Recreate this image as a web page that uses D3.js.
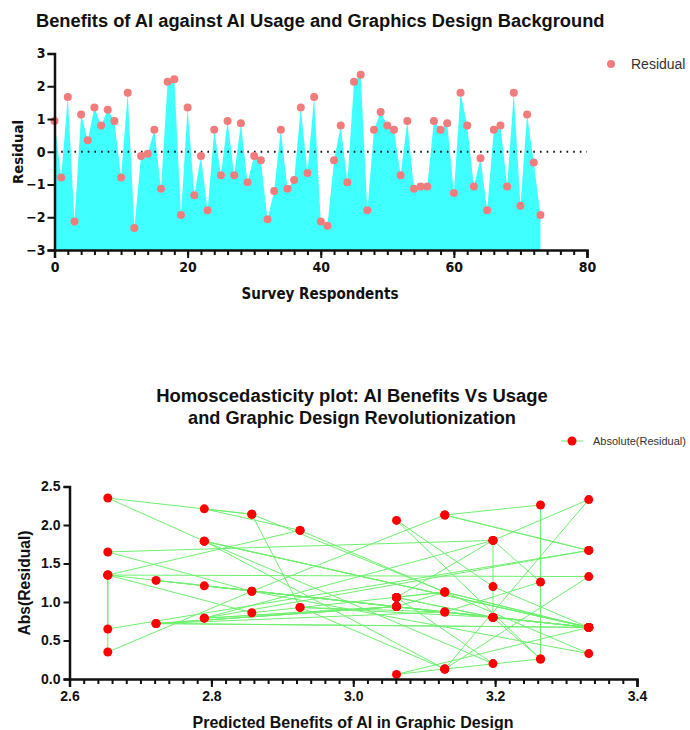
<!DOCTYPE html>
<html>
<head>
<meta charset="utf-8">
<script src="https://cdnjs.cloudflare.com/ajax/libs/d3/7.8.5/d3.min.js"></script>
<style>
  body { margin: 0; background: #fff; }
  text { font-family: "Liberation Sans", Arial, sans-serif; fill: #111; }
  .narrow { font-family: "Liberation Sans Narrow", "DejaVu Sans Condensed", "Liberation Sans", sans-serif; }
</style>
</head>
<body>
<svg width="690" height="730"></svg>
<script>
// residuals, one per survey respondent (0..73)
const residual = [0.94, -0.79, 1.67, -2.13, 1.14, 0.35, 1.35, 0.80, 1.28, 0.94,
  -0.79, 1.80, -2.33, -0.13, -0.06, 0.67, -1.13, 2.14, 2.21, -1.93,
  1.35, -1.33, -0.13, -1.79, 0.67, -0.72, 0.94, -0.72, 0.87, -0.93,
  -0.13, -0.26, -2.06, -1.20, 0.67, -1.13, -0.86, 1.35, -0.65, 1.67,
  -2.13, -2.26, -0.26, 0.80, -0.93, 2.14, 2.35, -1.79, 0.67, 1.21,
  0.80, 0.67, -0.72, 0.94, -1.13, -1.06, -1.06, 0.94, 0.67, 0.87,
  -1.26, 1.80, 0.80, -1.06, -0.20, -1.79, 0.67, 0.80, -1.06, 1.80,
  -1.65, 1.14, -0.33, -1.93];

// predicted benefit for each respondent (same order)
const predicted = [3.061, 2.790, 3.332, 3.129, 2.857, 2.654, 2.654, 3.197, 2.722, 3.061,
  2.790, 3.197, 3.332, 3.129, 3.061, 3.332, 3.129, 2.857, 2.790, 2.925,
  2.654, 3.332, 3.129, 2.790, 3.332, 2.722, 3.061, 2.722, 3.129, 2.925,
  3.129, 3.264, 3.061, 3.197, 3.332, 3.129, 2.857, 2.654, 2.654, 3.332,
  3.129, 3.264, 3.264, 3.197, 2.925, 2.857, 2.654, 2.790, 3.332, 2.790,
  3.197, 3.332, 2.722, 3.061, 3.129, 3.061, 3.061, 3.061, 3.332, 3.129,
  3.264, 3.197, 3.197, 3.061, 3.197, 2.790, 3.332, 3.197, 3.061, 3.197,
  2.654, 2.857, 3.332, 2.925];

// absolute residuals (same order)
const absResidual = [0.94, 0.79, 1.67, 2.13, 1.14, 0.35, 1.35, 0.80, 1.28, 0.94,
  0.79, 1.80, 2.33, 0.13, 0.06, 0.67, 1.13, 2.14, 2.21, 1.93,
  1.35, 1.33, 0.13, 1.79, 0.67, 0.72, 0.94, 0.72, 0.87, 0.93,
  0.13, 0.26, 2.06, 1.20, 0.67, 1.13, 0.86, 1.35, 0.65, 1.67,
  2.13, 2.26, 0.26, 0.80, 0.93, 2.14, 2.35, 1.79, 0.67, 1.21,
  0.80, 0.67, 0.72, 0.94, 1.13, 1.06, 1.06, 0.94, 0.67, 0.87,
  1.26, 1.80, 0.80, 1.06, 0.20, 1.79, 0.67, 0.80, 1.06, 1.80,
  1.65, 1.14, 0.33, 1.93];

const topXTicks = [0, 20, 40, 60, 80];
const topYTicks = [-3, -2, -1, 0, 1, 2, 3];
const botXTicks = [2.6, 2.8, 3.0, 3.2, 3.4];
const botYTicks = [0, 0.5, 1.0, 1.5, 2.0, 2.5];

const svg = d3.select("svg");

// scale a text's font size so it spans the wanted width
function fit(sel, w) {
  const n = sel.node();
  const fs = parseFloat(sel.attr("font-size"));
  const len = n.getComputedTextLength();
  sel.attr("font-size", (fs * w / len).toFixed(2));
  return sel;
}

// ---------- top chart ----------
const x1 = d3.scaleLinear().domain([0, 80]).range([54.5, 587]);
const y1 = d3.scaleLinear().domain([-3, 3]).range([250, 53.5]);

const g1 = svg.append("g");

g1.append("path")
  .datum(residual)
  .attr("fill", "#40ffff")
  .attr("d", d3.area()
    .x((d, i) => x1(i))
    .y0(y1(-3))
    .y1(d => y1(d)));

// zero line
g1.append("line")
  .attr("x1", x1(0)).attr("x2", x1(80))
  .attr("y1", y1(0)).attr("y2", y1(0))
  .attr("stroke", "#111")
  .attr("stroke-width", 2)
  .attr("stroke-dasharray", "1.6,5.05");

g1.selectAll("circle.res")
  .data(residual)
  .enter()
  .append("circle")
  .attr("class", "res")
  .attr("cx", (d, i) => x1(i))
  .attr("cy", d => y1(d))
  .attr("r", 4)
  .attr("fill", "#f27c7c");

// x axis, minor ticks every 2
const xAx1 = g1.append("g").attr("transform", `translate(0,${y1(-3)})`);
xAx1.append("g")
  .call(d3.axisBottom(x1).tickValues(d3.range(0, 81, 2)).tickSize(5).tickFormat(""))
  .call(a => a.select(".domain").remove())
  .selectAll("line").attr("stroke", "#111").attr("stroke-width", 2);
xAx1.append("g")
  .call(d3.axisBottom(x1).tickValues(topXTicks).tickSize(8).tickPadding(4))
  .call(a => a.select(".domain").attr("stroke-width", 2.5).attr("stroke", "#111"))
  .call(a => a.selectAll("line").attr("stroke", "#111").attr("stroke-width", 2))
  .call(a => a.selectAll("text").attr("class", "narrow")
    .attr("font-size", 14).attr("font-weight", "bold").attr("fill", "#111"));

const yAx1 = g1.append("g").attr("transform", `translate(${x1(0)},0)`);
yAx1.call(d3.axisLeft(y1).tickValues(topYTicks).tickSize(7).tickPadding(2).tickFormat(d3.format("d")))
  .call(a => a.select(".domain").attr("stroke-width", 2.5).attr("stroke", "#111"))
  .call(a => a.selectAll("line").attr("stroke", "#111").attr("stroke-width", 2))
  .call(a => a.selectAll("text").attr("class", "narrow")
    .attr("font-size", 14).attr("font-weight", "bold").attr("fill", "#111"));

fit(svg.append("text")
  .attr("x", 36).attr("y", 27)
  .attr("font-size", 15).attr("font-weight", "bold")
  .text("Benefits of AI against AI Usage and Graphics Design Background"), 569);

fit(svg.append("text")
  .attr("class", "narrow")
  .attr("x", 320).attr("y", 299)
  .attr("text-anchor", "middle")
  .attr("font-size", 16).attr("font-weight", "bold")
  .text("Survey Respondents"), 157);

fit(svg.append("text")
  .attr("class", "narrow")
  .attr("transform", "translate(23,152) rotate(-90)")
  .attr("text-anchor", "middle")
  .attr("font-size", 16).attr("font-weight", "bold")
  .text("Residual"), 64);

// legend
svg.append("circle").attr("cx", 611).attr("cy", 64).attr("r", 4).attr("fill", "#f27c7c");
svg.append("text")
  .attr("x", 631).attr("y", 69)
  .attr("font-size", 14)
  .style("fill", "#333")
  .text("Residual");

// ---------- bottom chart ----------
const x2 = d3.scaleLinear().domain([2.6, 3.4]).range([69.5, 637]);
const y2 = d3.scaleLinear().domain([0, 2.5]).range([679, 486.5]);

const g2 = svg.append("g");

g2.append("path")
  .datum(absResidual)
  .attr("fill", "none")
  .attr("stroke", "#6ef06e")
  .attr("stroke-width", 1)
  .attr("d", d3.line()
    .x((d, i) => x2(predicted[i]))
    .y(d => y2(d)));

g2.selectAll("circle.abs")
  .data(absResidual)
  .enter()
  .append("circle")
  .attr("class", "abs")
  .attr("cx", (d, i) => x2(predicted[i]))
  .attr("cy", d => y2(d))
  .attr("r", 4.5)
  .attr("fill", "#ff0000");

const xAx2 = g2.append("g").attr("transform", `translate(0,${y2(0)})`);
xAx2.append("g")
  .call(d3.axisBottom(x2).tickValues(d3.range(0, 41).map(k => 2.6 + k * 0.02)).tickSize(5).tickFormat(""))
  .call(a => a.select(".domain").remove())
  .selectAll("line").attr("stroke", "#111").attr("stroke-width", 2);
xAx2.append("g")
  .call(d3.axisBottom(x2).tickValues(botXTicks).tickSize(8).tickPadding(4).tickFormat(d3.format(".1f")))
  .call(a => a.select(".domain").attr("stroke-width", 2.5).attr("stroke", "#111"))
  .call(a => a.selectAll("line").attr("stroke", "#111").attr("stroke-width", 2))
  .call(a => a.selectAll("text")
    .attr("font-size", 14).attr("font-weight", "bold").attr("fill", "#111"));

const yAx2 = g2.append("g").attr("transform", `translate(${x2(2.6)},0)`);
yAx2.call(d3.axisLeft(y2).tickValues(botYTicks).tickSize(6).tickPadding(3).tickFormat(d3.format(".1f")))
  .call(a => a.select(".domain").attr("stroke-width", 2.5).attr("stroke", "#111"))
  .call(a => a.selectAll("line").attr("stroke", "#111").attr("stroke-width", 2))
  .call(a => a.selectAll("text")
    .attr("font-size", 14).attr("font-weight", "bold").attr("fill", "#111"));

fit(svg.append("text")
  .attr("x", 352).attr("y", 402)
  .attr("text-anchor", "middle")
  .attr("font-size", 16).attr("font-weight", "bold")
  .text("Homoscedasticity plot: AI Benefits Vs Usage"), 392);
fit(svg.append("text")
  .attr("x", 352).attr("y", 424)
  .attr("text-anchor", "middle")
  .attr("font-size", 16).attr("font-weight", "bold")
  .text("and Graphic Design Revolutionization"), 328);

fit(svg.append("text")
  .attr("x", 353).attr("y", 728)
  .attr("text-anchor", "middle")
  .attr("font-size", 15).attr("font-weight", "bold")
  .text("Predicted Benefits of AI in Graphic Design"), 321);

fit(svg.append("text")
  .attr("transform", "translate(30,583) rotate(-90)")
  .attr("text-anchor", "middle")
  .attr("font-size", 15).attr("font-weight", "bold")
  .text("Abs(Residual)"), 105);

// legend
svg.append("line").attr("x1", 561).attr("x2", 583).attr("y1", 441).attr("y2", 441)
  .attr("stroke", "#6ef06e").attr("stroke-width", 1);
svg.append("circle").attr("cx", 572).attr("cy", 441).attr("r", 4.5).attr("fill", "#ff0000");
svg.append("text")
  .attr("x", 593).attr("y", 445)
  .attr("font-size", 11)
  .style("fill", "#333")
  .text("Absolute(Residual)");
</script>
</body>
</html>
